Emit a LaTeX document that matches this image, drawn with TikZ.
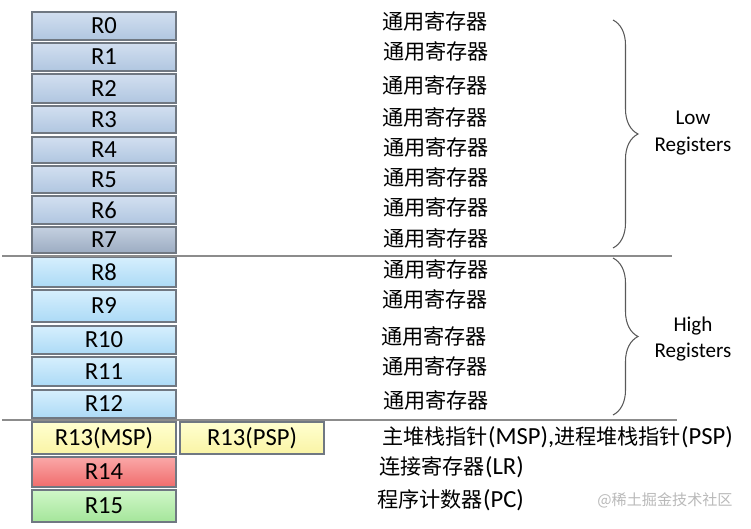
\documentclass[tikz,border=0pt]{standalone}
\usepackage{fontspec}
\setmainfont{Carlito}
\newfontfamily\cjk[Scale=0.86]{Noto Sans CJK SC}
\usepackage{xcolor}
\usepackage{tikz}
\usetikzlibrary{decorations.pathreplacing}

% box colours (top / bottom of the shading)
\definecolor{lowA}{RGB}{210,223,240}
\definecolor{lowB}{RGB}{176,198,224}
\definecolor{darkA}{RGB}{196,208,224}
\definecolor{darkB}{RGB}{156,172,194}
\definecolor{highA}{RGB}{214,239,253}
\definecolor{highB}{RGB}{172,218,246}
\definecolor{yelA}{RGB}{255,255,208}
\definecolor{yelB}{RGB}{250,244,165}
\definecolor{redA}{RGB}{250,168,168}
\definecolor{redB}{RGB}{240,108,108}
\definecolor{grnA}{RGB}{208,247,200}
\definecolor{grnB}{RGB}{164,229,154}
\definecolor{regline}{RGB}{112,120,130}

\begin{document}
\begin{tikzpicture}[x=0.02cm, y=-0.02cm,
    reg/.style={draw=regline, line width=0.7pt, minimum width=2.88cm, inner sep=0pt,
      font=\fontsize{14}{16}\selectfont},
    desc/.style={anchor=west, inner sep=0pt, font=\fontsize{14}{16}\selectfont},
    sep/.style={gray!90, line width=0.9pt},
    grp/.style={decorate, decoration={brace, amplitude=0.5cm}, gray!70!black, line width=0.6pt},
    grplabel/.style={align=center, font=\fontsize{12}{15}\selectfont}]
    \useasboundingbox (0,0) rectangle (751,528);

    % Register boxes R0 - R12
    \foreach \n/\t/\b/\c in {0/12/40/low, 1/43/71/low, 2/74/103/low, 3/106/133/low,
        4/137/163/low, 5/166/193/low, 6/196/224/low, 7/227/253/dark,
        8/257/287/high, 9/290/322/high, 10/326/354/high, 11/357/386/high, 12/390/418/high}
      \node[reg, top color=\c A, bottom color=\c B, minimum height={(\b-\t)*0.02cm}]
        (r\n) at (104,{(\t+\b)/2}) {R\n};

    % Special registers
    \node[reg, top color=yelA, bottom color=yelB, minimum height=0.64cm] (r13m) at (104,438) {R13(MSP)};
    \node[reg, top color=yelA, bottom color=yelB, minimum height=0.64cm] (r13p) at (252,438) {R13(PSP)};
    \node[reg, top color=redA, bottom color=redB, minimum height=0.6cm] (r14) at (104,472) {R14};
    \node[reg, top color=grnA, bottom color=grnB, minimum height=0.64cm] (r15) at (104,506) {R15};

    % Descriptions
    \foreach \n/\y/\x in {0/21/382, 1/51/383, 2/85/382, 3/117/382, 4/147/383, 5/177/383, 6/207/383,
        7/238/383, 8/269/383, 9/299/382, 10/336/381, 11/366/382, 12/400/383}
      \node[desc] (d\n) at (\x,\y) {\cjk 通用寄存器};
    \node[desc] (d13) at (382,437) {{\cjk 主堆栈指针}(MSP),{\cjk 进程堆栈指针}(PSP)};
    \node[desc] (d14) at (379,467) {{\cjk 连接寄存器}(LR)};
    \node[desc] (d15) at (377,500) {{\cjk 程序计数器}(PC)};

    % Separating lines
    \coordinate (sepA) at (2,256);
    \coordinate (sepB) at (672,256);
    \coordinate (sepC) at (2,420);
    \coordinate (sepD) at (677,420);
    \draw[sep] (sepA) -- (sepB);
    \draw[sep] (sepC) -- (sepD);

    % Braces
    \coordinate (lowtop) at (613,20);
    \coordinate (lowbot) at (613,248);
    \coordinate (hightop) at (613,258);
    \coordinate (highbot) at (613,415);
    \draw[grp] (lowtop) -- (lowbot);
    \draw[grp] (hightop) -- (highbot);
    \node[grplabel] (low) at (693,133) {Low\\Registers};
    \node[grplabel] (high) at (693,339) {High\\Registers};

    % Watermark
    \node[text=gray!55, font=\fontsize{10}{12}\selectfont\cjk] (mark) at (665,500) {@稀土掘金技术社区};
\end{tikzpicture}
\end{document}
